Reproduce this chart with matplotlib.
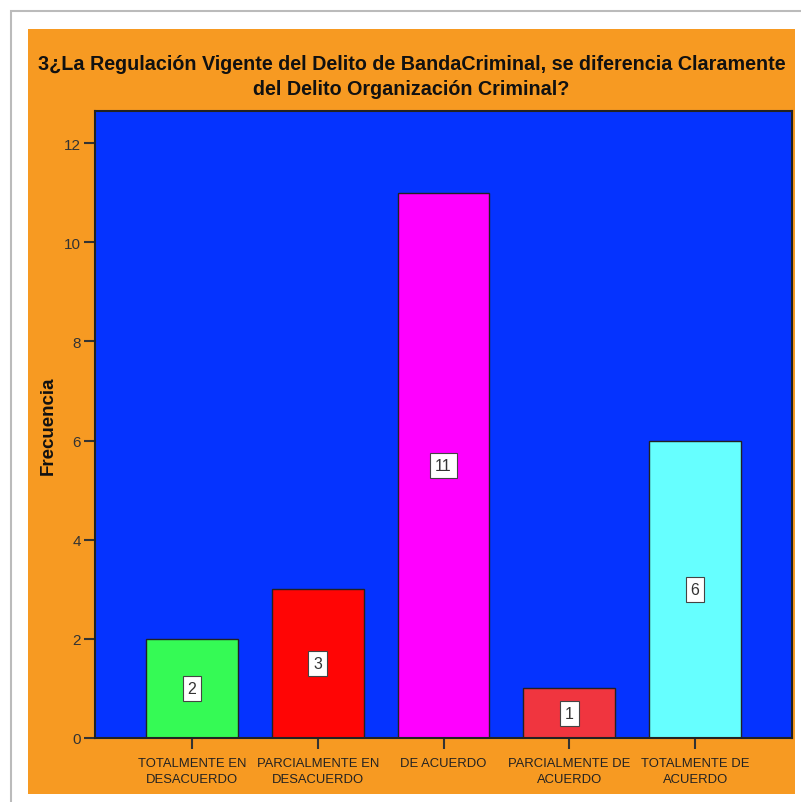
import matplotlib
matplotlib.use("Agg")
import matplotlib.pyplot as plt
from matplotlib.patches import Rectangle
from matplotlib import font_manager

categories = ["TOTALMENTE EN\nDESACUERDO", "PARCIALMENTE EN\nDESACUERDO", "DE ACUERDO",
              "PARCIALMENTE DE\nACUERDO", "TOTALMENTE DE\nACUERDO"]
values = [2, 3, 11, 1, 6]
colors = ["#35FA55", "#FF0505", "#FF00FF", "#F0353F", "#66FFFF"]
yticks = [0, 2, 4, 6, 8, 10, 12]
title = "3¿La Regulación Vigente del Delito de BandaCriminal, se diferencia Claramente\ndel Delito Organización Criminal?"

names = {f.name for f in font_manager.fontManager.ttflist}
narrow = ["Liberation Sans Narrow", "Liberation Sans"] if "Liberation Sans Narrow" in names else ["Liberation Sans"]
is_narrow = "Liberation Sans Narrow" in names

W, H = 801, 803
fig = plt.figure(figsize=(W / 100, H / 100), dpi=100)
fig.patch.set_facecolor("white")

# outer frame / shadow
fig.add_artist(Rectangle((11 / W, -0.01), (W - 11) / W + 0.01, (H - 12) / H + 0.01, transform=fig.transFigure,
                         facecolor="white", edgecolor="#BBBBBB", lw=1.5, zorder=-3))
# orange panel
fig.add_artist(Rectangle((28 / W, (H - 795) / H), (795 - 28) / W, (795 - 30) / H,
                         transform=fig.transFigure, facecolor="#F79A22", edgecolor="none", zorder=-2))

ax = fig.add_axes([95 / W, (H - 739) / H, (792 - 95) / W, (739 - 112) / H])
ax.set_facecolor("#0533FF")
x = list(range(len(values)))
ax.bar(x, values, width=0.73, color=colors, edgecolor="#222222", linewidth=1.0, zorder=2)
for xi, v in zip(x, values):
    ax.text(xi, v / 2, str(v), ha="center", va="center", fontsize=11.5, family=narrow, color="#333333",
            bbox=dict(boxstyle="square,pad=0.3", facecolor="white", edgecolor="#444444", lw=0.8), zorder=3)

ax.set_xlim(-0.77, 4.77)
ax.set_ylim(0, 12.65)
ax.set_yticks(yticks)
ax.set_yticklabels([str(t) for t in yticks], family=narrow, fontsize=11, color="#333333")
ax.set_xticks(x)
ax.set_xticklabels(categories, family=narrow, fontsize=11 if is_narrow else 9.4, color="#222222", linespacing=1.35)
ax.tick_params(axis="both", direction="out", length=8, width=1.5, color="#333333", pad=2)
ax.tick_params(axis="x", pad=6)
for s in ax.spines.values():
    s.set_color("#222222")
    s.set_linewidth(1.5)

ax.set_ylabel("Frecuencia", fontsize=13.5, fontweight="bold", family=["Liberation Sans"], color="#111111")
ax.yaxis.set_label_coords((57 - 95) / 697, 0.5)
fig.text((28 + 795) / 2 / W, 1 - 77 / H, title, ha="center", va="center",
         fontsize=16 if is_narrow else 14.2, fontweight="bold",
         family=narrow, color="#111111", linespacing=1.35)

fig.savefig("out.png", dpi=100, facecolor=fig.get_facecolor())
